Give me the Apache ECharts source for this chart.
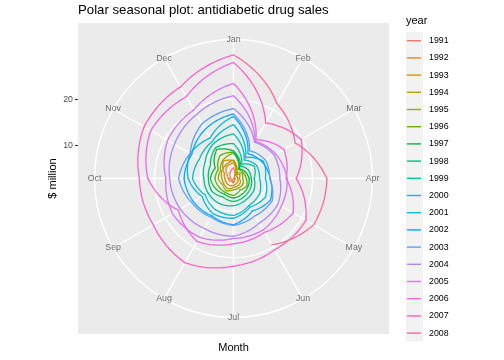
<!DOCTYPE html>
<html>
<head>
<meta charset="utf-8">
<script src="https://cdn.jsdelivr.net/npm/echarts@6/dist/echarts.min.js"></script>
<style>html,body{margin:0;padding:0;background:#fff;}#c{width:504px;height:360px;}</style>
</head>
<body>
<div id="c"></div>
<script>
// Month labels (theta axis)
const months = ['Jan','Feb','Mar','Apr','May','Jun','Jul','Aug','Sep','Oct','Nov','Dec'];
const years = ['1991','1992','1993','1994','1995','1996','1997','1998','1999','2000','2001','2002','2003','2004','2005','2006','2007','2008'];
// Monthly sales ($ million), Jan..Dec; null = no data
const s1991 = [null,null,null,null,null,null,3.526591,3.180891,3.252221,3.611003,3.565869,4.306371];
const s1992 = [5.088335,2.814520,2.985811,3.204780,3.127578,3.270523,3.737851,3.558776,3.777202,3.924490,4.386531,5.810549];
const s1993 = [6.192068,3.450857,3.772307,3.734303,3.905399,4.049687,4.315566,4.562185,4.608662,4.667851,5.093841,7.179962];
const s1994 = [6.731473,3.841278,4.394076,4.075341,4.540645,4.645615,4.752607,5.350605,5.204455,5.301651,5.773742,6.204593];
const s1995 = [6.749484,4.216067,4.949349,4.823045,5.194754,5.170787,5.256742,5.855277,5.490729,6.115293,6.088473,7.416598];
const s1996 = [8.329452,5.069796,5.262557,5.597126,6.110296,5.689161,6.486849,6.300569,6.467476,6.828629,6.649726,8.606442];
const s1997 = [8.524471,5.277918,5.714303,6.214529,6.411929,6.667716,7.050831,6.704919,7.250988,7.819733,7.398101,10.096233];
const s1998 = [8.798513,5.918261,6.534493,6.675736,7.064201,7.383381,7.813406,7.431892,8.275117,8.260441,8.596156,10.558939];
const s1999 = [10.391416,6.421535,8.062619,7.297739,7.936916,8.165323,8.717420,9.070964,9.177113,9.251887,9.933136,11.532974];
const s2000 = [12.511462,7.457199,8.591191,8.474000,9.386803,9.560399,10.834295,10.643751,9.908162,11.710041,11.340151,12.079132];
const s2001 = [14.497581,8.049275,10.312891,9.753358,10.850382,9.961719,11.443601,11.659239,10.647060,12.652134,13.674466,12.965735];
const s2002 = [16.300269,9.053485,10.002449,10.788750,12.106705,10.954101,12.844566,12.196500,12.854748,13.542004,13.287640,15.134918];
const s2003 = [16.828350,9.800215,10.816994,10.654223,12.512323,12.161210,12.998046,12.517276,13.268658,14.733622,13.669382,16.503966];
const s2004 = [18.003768,11.938030,12.997900,12.882645,13.943447,13.989472,15.339097,15.370764,16.142005,16.685754,17.636728,18.869325];
const s2005 = [20.778723,12.154552,13.402392,14.459239,14.795102,15.705248,15.829550,17.554701,18.100864,17.496668,19.347265,20.031291];
const s2006 = [23.486694,12.536987,15.467018,14.233539,17.783058,16.291602,16.980282,18.612189,16.623343,21.430241,23.575517,23.334206];
const s2007 = [28.038383,16.763869,19.792754,16.427305,21.000742,20.681002,21.834890,23.930204,22.930357,23.263340,25.250030,25.806090];
const s2008 = [29.665356,21.654285,18.264945,23.107677,22.912510,19.431740,null,null,null,null,null,null];
const radialTicks = [10, 20];

const yearValues = [s1991,s1992,s1993,s1994,s1995,s1996,s1997,s1998,s1999,s2000,s2001,s2002,s2003,s2004,s2005,s2006,s2007,s2008];

function hcl2hex(h, c, l) {
  const hr = h * Math.PI / 180;
  const U = c * Math.cos(hr), V = c * Math.sin(hr);
  const Y = l > 8 ? Math.pow((l + 16) / 116, 3) : l / 903.3;
  const Xn = 0.95047, Yn = 1, Zn = 1.08883;
  const t = Xn + 15 * Yn + 3 * Zn;
  const un = 4 * Xn / t, vn = 9 * Yn / t;
  const u = U / (13 * l) + un, v = V / (13 * l) + vn;
  const X = 9 * Y * u / (4 * v);
  const Z = -X / 3 - 5 * Y + 3 * Y / v;
  let rgb = [
    3.240479 * X - 1.537150 * Y - 0.498535 * Z,
    -0.969256 * X + 1.875992 * Y + 0.041556 * Z,
    0.055648 * X - 0.204043 * Y + 1.057311 * Z
  ];
  rgb = rgb.map(x => {
    x = x <= 0.0031308 ? 12.92 * x : 1.055 * Math.pow(x, 1 / 2.4) - 0.055;
    x = Math.max(0, Math.min(1, x));
    return Math.round(x * 255).toString(16).padStart(2, '0');
  });
  return '#' + rgb.join('');
}
const n = years.length;
const colors = years.map((y, i) => hcl2hex(15 + i * 360 / n, 100, 65));

// data range
const all = yearValues.flat().filter(v => v != null);
const dmin = Math.min(...all), dmax = Math.max(...all);

// geometry
const cx = 233.5, cy = 178.5, R = 139;
const panelTop = 23, panelBottom = 334, panelLeft = 78, panelW = 311;
const rMax = dmin + (dmax - dmin) * 0.45 / 0.4;
const unitsPerPx = (rMax - dmin) / R;
const yMax = dmin + (cy - panelTop) * unitsPerPx;
const yMin = dmin - (panelBottom - cy) * unitsPerPx;

const series = yearValues.map((vals, i) => {
  const pts = [];
  vals.forEach((v, m) => { if (v != null) pts.push([v, m + 1]); });
  const next = yearValues[i + 1];
  if (next && next[0] != null) pts.push([next[0], 13]);
  const col = colors[i];
  return {
    name: years[i], type: 'custom', coordinateSystem: 'polar', polarIndex: 0,
    data: pts, animation: false, silent: true, z: 3,
    itemStyle: { color: col },
    renderItem: function (params, api) {
      const k = params.dataIndex;
      if (k >= pts.length - 1) return null;
      const a = pts[k], b = pts[k + 1];
      const steps = 24;
      const path = [];
      // coord_polar draws a straight data segment as a spiral in screen space
      for (let s = 0; s <= steps; s++) {
        const f = s / steps;
        path.push(api.coord([a[0] + (b[0] - a[0]) * f, a[1] + (b[1] - a[1]) * f]));
      }
      return { type: 'polyline', shape: { points: path },
               style: { stroke: col, lineWidth: 1.3, fill: null, lineCap: 'round', lineJoin: 'round' } };
    }
  };
});
series.push({
  type: 'scatter', coordinateSystem: 'polar', polarIndex: 0, silent: true, animation: false,
  symbolSize: 1, itemStyle: { color: 'rgba(0,0,0,0)' },
  data: months.map((m, i) => ({ value: [rMax, i + 1], name: m })),
  label: { show: true, position: 'inside', formatter: p => p.name, fontSize: 8.8,
           color: '#4D4D4D', fontFamily: 'Liberation Sans' },
  z: 4
});

const chart = echarts.init(document.getElementById('c'), null, { renderer: 'canvas' });
chart.setOption({
  backgroundColor: '#fff',
  animation: false,
  textStyle: { fontFamily: 'Liberation Sans' },
  color: colors,
  title: [
    { text: 'Polar seasonal plot: antidiabetic drug sales', left: 78, top: 4, padding: 0,
      textStyle: { fontSize: 13.2, fontWeight: 'normal', color: '#000', fontFamily: 'Liberation Sans' } },
    { text: 'year', left: 406, top: 15, padding: 0,
      textStyle: { fontSize: 11, fontWeight: 'normal', color: '#000', fontFamily: 'Liberation Sans' } }
  ],
  graphic: [
    { type: 'rect', shape: { x: 406, y: 31.9, width: 17, height: 17.2 * n }, style: { fill: '#F2F2F2' }, z: -10, silent: true }
  ],
  grid: { left: panelLeft, top: panelTop, width: panelW, height: panelW, show: true,
          backgroundColor: '#EBEBEB', borderWidth: 0, z: -5 },
  xAxis: { type: 'value', min: 0, max: 1, axisLine: { show: false }, axisTick: { show: false },
           axisLabel: { show: false }, splitLine: { show: false },
           name: 'Month', nameLocation: 'middle', nameGap: 8,
           nameTextStyle: { fontSize: 11, color: '#000', fontFamily: 'Liberation Sans' } },
  yAxis: { type: 'value', min: yMin, max: yMax, axisLine: { show: false },
           axisTick: { show: true, customValues: radialTicks, length: 3, lineStyle: { color: '#333', width: 1.07 } },
           axisLabel: { show: true, customValues: radialTicks, margin: 5, fontSize: 8.8, color: '#4D4D4D', fontFamily: 'Liberation Sans' },
           splitLine: { show: false },
           name: '$ million', nameLocation: 'middle', nameRotate: 90, nameGap: 19.5, nameMoveOverlap: false,
           nameTextStyle: { fontSize: 11, color: '#000', fontFamily: 'Liberation Sans' } },
  polar: { center: [cx, cy], radius: R },
  angleAxis: { type: 'value', min: 1, max: 13, interval: 1, startAngle: 90, clockwise: true,
               axisLine: { show: true, lineStyle: { color: '#fff', width: 1.4 } },
               axisTick: { show: false }, axisLabel: { show: false },
               splitLine: { show: true, lineStyle: { color: '#fff', width: 1.4 } } },
  radiusAxis: { type: 'value', min: dmin, max: rMax,
                axisLine: { show: false }, axisTick: { show: false, customValues: radialTicks },
                axisLabel: { show: false, customValues: radialTicks },
                splitLine: { show: true, lineStyle: { color: '#fff', width: 1.4 } } },
  legend: { data: years, orient: 'vertical', left: 407, top: 36.2, itemWidth: 14, itemHeight: 12,
            itemGap: 8.2, icon: 'path://M0,0H14V1.4H0Z', padding: 0,
            textStyle: { fontSize: 8.8, color: '#000', fontFamily: 'Liberation Sans', padding: [0, 0, 0, 3] } },
  series: series
});
</script>
</body>
</html>
